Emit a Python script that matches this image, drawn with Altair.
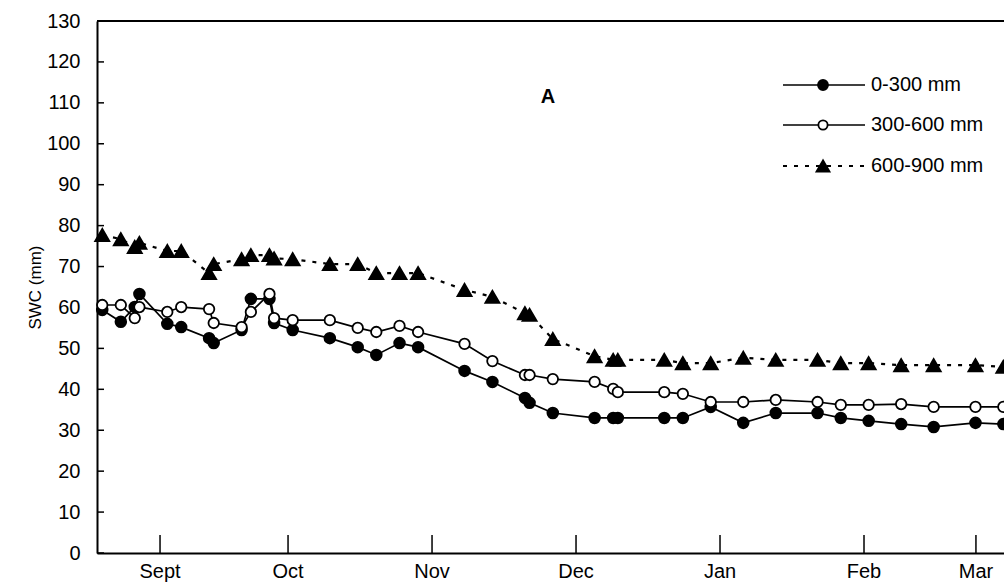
import altair as alt
import pandas as pd

# Sampling days (day 0 = first sampling date)
days = [0, 4, 7, 8, 14, 17, 23, 24, 30, 32, 36, 37, 41, 49, 55, 59, 64, 68, 78, 84,
        91, 92, 97, 106, 110, 111, 121, 125, 131, 138, 145, 154, 159, 165, 172, 179,
        188, 194]

# Soil water content (mm) per depth layer
swc_0_300 = [59.4, 56.5, 60.1, 63.3, 56.0, 55.2, 52.5, 51.3, 54.5, 62.1, 62.1, 56.2,
             54.5, 52.5, 50.3, 48.4, 51.3, 50.3, 44.5, 41.8, 37.9, 36.7, 34.2, 33.0,
             33.0, 33.0, 33.0, 33.0, 35.7, 31.8, 34.2, 34.2, 33.0, 32.3, 31.5, 30.8,
             31.8, 31.5]
swc_300_600 = [60.6, 60.6, 57.4, 60.1, 58.9, 60.1, 59.6, 56.2, 55.2, 58.9, 63.3, 57.4,
               56.9, 56.9, 55.0, 54.0, 55.5, 54.0, 51.1, 46.9, 43.5, 43.5, 42.5, 41.8,
               40.1, 39.3, 39.3, 38.9, 36.9, 36.9, 37.4, 36.9, 36.2, 36.2, 36.4, 35.7,
               35.7, 35.7]
swc_600_900 = [77.7, 76.7, 74.8, 75.8, 73.8, 73.8, 68.4, 70.6, 71.8, 72.8, 72.8, 72.0,
               71.8, 70.6, 70.6, 68.4, 68.4, 68.4, 64.3, 62.6, 58.6, 58.2, 52.3, 48.1,
               47.2, 47.2, 47.2, 46.4, 46.4, 47.7, 47.2, 47.2, 46.4, 46.4, 45.9, 45.9,
               45.9, 45.5]

# Month tick positions (in days) and labels
month_days = [12.44, 40, 71, 102, 133, 164, 188.1]
month_labels = ["Sept", "Oct", "Nov", "Dec", "Jan", "Feb", "Mar"]

y_ticks = list(range(0, 131, 10))
series_names = ["0-300 mm", "300-600 mm", "600-900 mm"]

W, H = 907, 532
FONT = "Liberation Sans"

x_scale = alt.Scale(domain=[-1.13, 194.14], nice=False, zero=False)
y_scale = alt.Scale(domain=[0, 130], nice=False)

def frame(vals):
    return pd.DataFrame({"day": days, "swc": vals})

X = alt.X("day:Q", scale=x_scale,
          axis=alt.Axis(labels=False, ticks=False, grid=False, title=None,
                        domainColor="black", domainWidth=2))
Y = alt.Y("swc:Q", scale=y_scale,
          axis=alt.Axis(values=y_ticks, ticks=False, grid=False, labelPadding=17,
                        labelFontSize=20, labelFont=FONT, labelColor="black",
                        domainColor="black", domainWidth=2,
                        title="SWC (mm)", titleFont=FONT, titleFontSize=17,
                        titleFontWeight="normal", titleColor="black",
                        titleX=-62, titleY=H / 2, titleBaseline="middle",
                        titleAlign="center", titleAngle=270))

layers = []

def series_layers(vals, shape, fill, dash, size):
    base = alt.Chart(frame(vals)).encode(x=X, y=Y)
    line_kw = dict(color="black", strokeWidth=1.7)
    if dash:
        line_kw = dict(color="black", strokeWidth=2.2, strokeDash=[4, 7])
    ln = base.mark_line(**line_kw)
    pt = base.mark_point(shape=shape, filled=True, fill=fill, stroke="black",
                         strokeWidth=1.8, size=size, opacity=1)
    return [ln, pt]

layers += series_layers(swc_0_300, "circle", "black", False, 115)
layers += series_layers(swc_300_600, "circle", "white", False, 110)
layers += series_layers(swc_600_900, "triangle-up", "black", True, 200)

# top border of the plot area
top = alt.Chart(pd.DataFrame({"swc": [130]})).mark_rule(color="black", strokeWidth=2).encode(
    y=alt.Y("swc:Q", scale=y_scale), x=alt.value(0), x2=alt.value(W))

# inward y ticks
yt = alt.Chart(pd.DataFrame({"swc": y_ticks})).mark_rule(color="black", strokeWidth=1.5).encode(
    y=alt.Y("swc:Q", scale=y_scale), x=alt.value(0), x2=alt.value(7))

# inward month ticks and labels
months = pd.DataFrame({"day": month_days, "label": month_labels})
xt = alt.Chart(months).mark_rule(color="black", strokeWidth=1.5).encode(
    x=alt.X("day:Q", scale=x_scale), y=alt.value(H - 18), y2=alt.value(H))
xl = alt.Chart(months).mark_text(font=FONT, fontSize=20, baseline="top", color="black").encode(
    x=alt.X("day:Q", scale=x_scale), y=alt.value(H + 9), text="label:N")

# panel letter
panel = alt.Chart(pd.DataFrame({"t": ["A"]})).mark_text(
    font=FONT, fontSize=20, fontWeight="bold", color="black").encode(
    x=alt.value(451), y=alt.value(76), text="t:N")

# legend rows
legend_layers = []
rows = [("circle", "black", False, 100), ("circle", "white", False, 85),
        ("triangle-up", "black", True, 170)]
row_y = [64, 104, 145]
for name, (shape, fill, dash, size), ry in zip(series_names, rows, row_y):
    d = pd.DataFrame({"label": [name]})
    lk = dict(color="black", strokeWidth=1.7)
    if dash:
        lk = dict(color="black", strokeWidth=2.2, strokeDash=[4, 7])
    legend_layers.append(alt.Chart(d).mark_rule(**lk).encode(
        x=alt.value(686), x2=alt.value(768), y=alt.value(ry)))
    legend_layers.append(alt.Chart(d).mark_point(
        shape=shape, filled=True, fill=fill, stroke="black", strokeWidth=1.8,
        size=size, opacity=1).encode(x=alt.value(726), y=alt.value(ry)))
    legend_layers.append(alt.Chart(d).mark_text(
        font=FONT, fontSize=20, align="left", baseline="middle", color="black").encode(
        x=alt.value(774), y=alt.value(ry), text="label:N"))

chart = alt.layer(top, yt, xt, xl, *layers, panel, *legend_layers).properties(
    width=W, height=H,
    padding={"left": 97, "top": 21, "right": 0, "bottom": 33},
    autosize=alt.AutoSizeParams(type="none"),
    background="white",
).configure_view(stroke=None)

chart.save("out.html", embed_options={"renderer": "svg", "actions": False})
